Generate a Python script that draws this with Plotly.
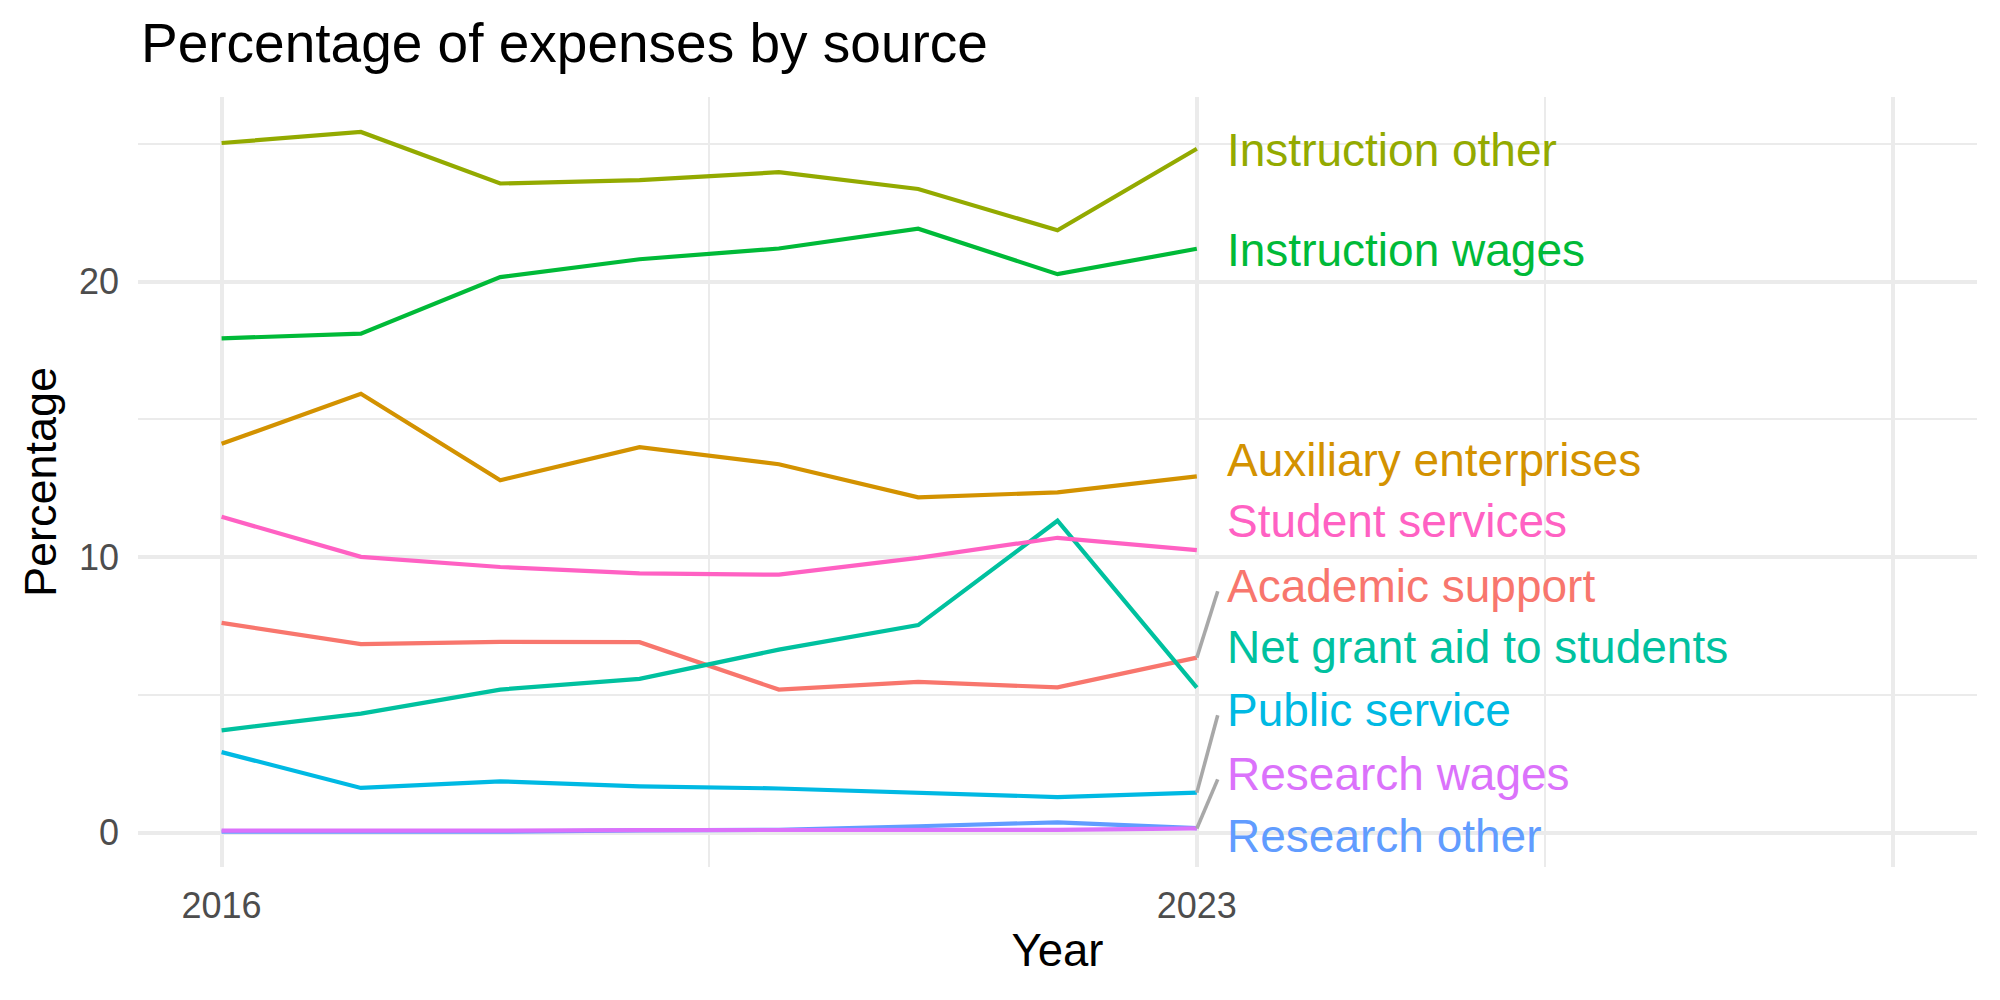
import plotly.graph_objects as go

# ---------------- data ----------------
years = [2016, 2017, 2018, 2019, 2020, 2021, 2022, 2023]

categories = [
    "Academic support",
    "Auxiliary enterprises",
    "Instruction other",
    "Instruction wages",
    "Net grant aid to students",
    "Public service",
    "Research other",
    "Research wages",
    "Student services",
]

academic_support = [7.61, 6.84, 6.92, 6.91, 5.19, 5.47, 5.27, 6.35]
auxiliary_enterprises = [14.11, 15.93, 12.79, 13.99, 13.37, 12.17, 12.35, 12.93]
instruction_other = [25.03, 25.43, 23.56, 23.68, 23.97, 23.36, 21.86, 24.82]
instruction_wages = [17.94, 18.11, 20.16, 20.81, 21.20, 21.92, 20.27, 21.19]
net_grant_aid = [3.71, 4.32, 5.19, 5.58, 6.64, 7.53, 11.32, 5.26]
public_service = [2.92, 1.62, 1.86, 1.68, 1.60, 1.45, 1.29, 1.45]
research_other = [0.03, 0.02, 0.03, 0.08, 0.10, 0.23, 0.37, 0.16]
research_wages = [0.07, 0.06, 0.07, 0.09, 0.09, 0.07, 0.10, 0.15]
student_services = [11.46, 10.01, 9.64, 9.41, 9.36, 9.97, 10.70, 10.25]

series_values = [
    academic_support,
    auxiliary_enterprises,
    instruction_other,
    instruction_wages,
    net_grant_aid,
    public_service,
    research_other,
    research_wages,
    student_services,
]

colors = ["#F8766D", "#D39200", "#93AA00", "#00BA38", "#00C19F",
          "#00B9E3", "#619CFF", "#DB72FB", "#FF61C3"]

# repelled label positions (data units) at the right of the last year
label_x = 2023.2
label_y = [8.94, 13.54, 24.79, 21.16, 6.72, 4.44, -0.13, 2.11, 11.30]
has_segment = [True, False, False, False, False, True, False, True, False]

x_tickvals = [2016, 2023, 2028]
x_ticktext = ["2016", "2023", ""]
x_minor = [2019.5, 2025.5]
y_tickvals = [0, 10, 20]
y_minor = [5, 15, 25]

# ---------------- figure ----------------
FONT = "Liberation Sans, Arial, Helvetica, sans-serif"
GRID = "#EBEBEB"

fig = go.Figure()

for name, vals, col in zip(categories, series_values, colors):
    fig.add_trace(go.Scatter(
        x=years, y=vals, mode="lines", name=name,
        line=dict(color=col, width=4.2),
        showlegend=False, hoverinfo="x+y+name",
    ))

# label connector segments
for name, vals, ly, seg in zip(categories, series_values, label_y, has_segment):
    if seg:
        fig.add_trace(go.Scatter(
            x=[years[-1], label_x - 0.05], y=[vals[-1], ly - 0.18],
            mode="lines", line=dict(color="#A8A8A8", width=3.6),
            showlegend=False, hoverinfo="skip",
        ))

for name, ly, col in zip(categories, label_y, colors):
    fig.add_annotation(
        x=label_x, y=ly, xref="x", yref="y", text=name,
        showarrow=False, xanchor="left", yanchor="middle",
        font=dict(family=FONT, size=46, color=col),
    )

fig.update_layout(
    width=2000, height=1000,
    margin=dict(l=138, r=23, t=97, b=133),
    paper_bgcolor="white", plot_bgcolor="white",
    font=dict(family=FONT),
    title=dict(
        text="Percentage of expenses by source",
        x=0, xref="paper", xanchor="left",
        y=1 - 43 / 1000, yref="container", yanchor="middle",
        pad=dict(l=3),
        font=dict(family=FONT, size=55, color="black"),
    ),
)

fig.update_xaxes(
    range=[2015.4, 2028.6],
    tickmode="array", tickvals=x_tickvals, ticktext=x_ticktext,
    showgrid=True, gridcolor=GRID, gridwidth=4.3,
    minor=dict(tickmode="array", tickvals=x_minor, showgrid=True,
               gridcolor=GRID, gridwidth=2.1, ticks=""),
    zeroline=False, showline=False, ticks="",
    tickfont=dict(family=FONT, size=36, color="#4D4D4D"),
    ticklabelstandoff=14,
    title=dict(text="Year", font=dict(family=FONT, size=45.5, color="black"),
               standoff=9),
)

fig.update_yaxes(
    range=[-1.25, 26.7],
    tickmode="array", tickvals=y_tickvals, ticktext=[str(v) for v in y_tickvals],
    showgrid=True, gridcolor=GRID, gridwidth=4.3,
    minor=dict(tickmode="array", tickvals=y_minor, showgrid=True,
               gridcolor=GRID, gridwidth=2.1, ticks=""),
    zeroline=False, showline=False, ticks="",
    tickfont=dict(family=FONT, size=36, color="#4D4D4D"),
    ticklabelstandoff=18,
    title=dict(text="Percentage", font=dict(family=FONT, size=45, color="black"),
               standoff=8),
)

fig.write_html("out.html")
